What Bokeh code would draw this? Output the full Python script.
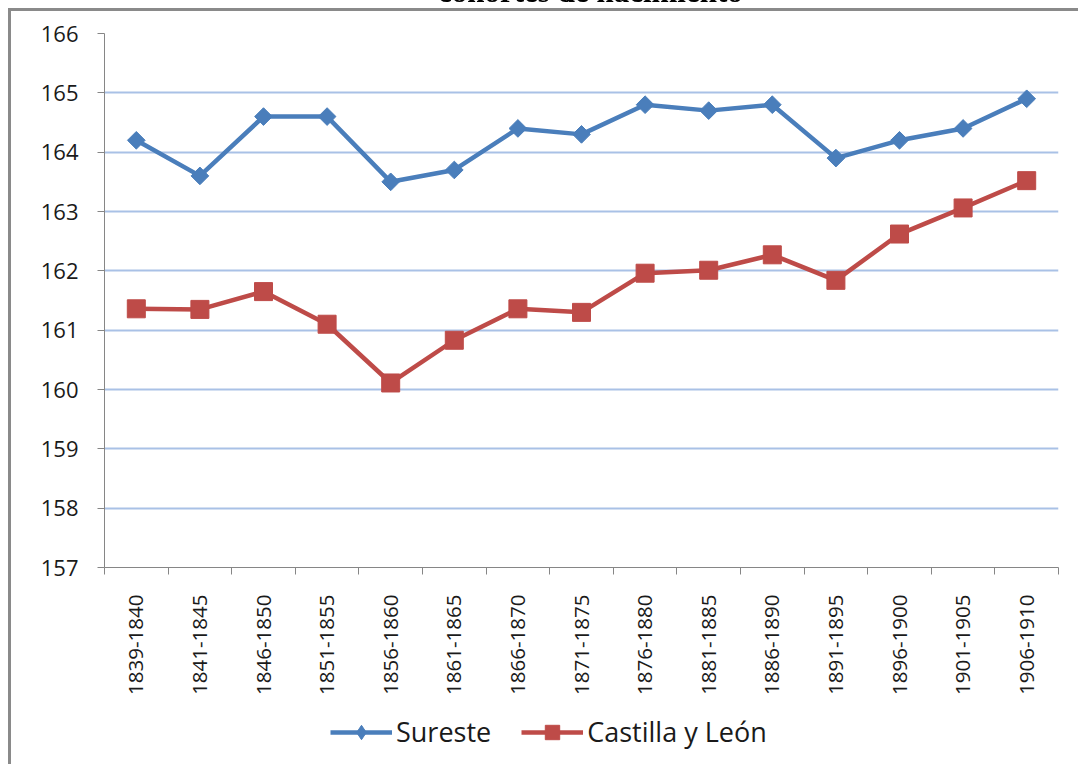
import numpy as np
from bokeh.plotting import figure
from bokeh.layouts import column
from bokeh.models import Range1d, FixedTicker, Legend, LegendItem, Div
from bokeh.embed import file_html
from bokeh.resources import INLINE

title_text = "cohortes de nacimiento"
periods = ["1839-1840", "1841-1845", "1846-1850", "1851-1855", "1856-1860",
           "1861-1865", "1866-1870", "1871-1875", "1876-1880", "1881-1885",
           "1886-1890", "1891-1895", "1896-1900", "1901-1905", "1906-1910"]
sureste = [164.2, 163.6, 164.6, 164.6, 163.5, 163.7, 164.4, 164.3, 164.8,
           164.7, 164.8, 163.9, 164.2, 164.4, 164.9]
castilla = [161.36, 161.35, 161.65, 161.1, 160.11, 160.83, 161.36, 161.3,
            161.96, 162.01, 162.27, 161.84, 162.62, 163.06, 163.52]
y_ticks = [157, 158, 159, 160, 161, 162, 163, 164, 165, 166]
series_names = ["Sureste", "Castilla y León"]

FONT = "Open Sans"
BLUE = "#4a7ebb"
RED = "#be4b48"
GRID = "#a9c1e6"
AXIS = "#868686"
TEXT = "#1a1a1a"

n = len(periods)
xc = np.arange(n) + 0.5


def draw_series(fig, blue_marker, blue_angle):
    l1 = fig.line(xc, sureste, line_color=BLUE, line_width=4.5)
    m1 = fig.scatter(xc, sureste, marker=blue_marker, size=12.5, angle=blue_angle,
                     fill_color=BLUE, line_color=BLUE)
    l2 = fig.line(xc, castilla, line_color=RED, line_width=4.5)
    m2 = fig.scatter(xc, castilla, marker="square", size=18,
                     fill_color=RED, line_color=RED)
    return (l1, m1), (l2, m2)


# main chart
p = figure(width=1067, height=689, output_backend="svg", toolbar_location=None,
           x_range=Range1d(0, n), y_range=Range1d(y_ticks[0], y_ticks[-1]),
           min_border_left=93, min_border_right=20, min_border_top=22,
           min_border_bottom=133)
p.outline_line_color = None
p.background_fill_color = "white"
p.border_fill_color = "white"

xa = p.xaxis[0]
xa.ticker = FixedTicker(ticks=list(xc), minor_ticks=list(np.arange(n + 1)))
xa.major_label_overrides = {float(x): lab for x, lab in zip(xc, periods)}
xa.major_tick_out = 0
xa.major_tick_in = 0
xa.minor_tick_out = 7
xa.minor_tick_in = 0
xa.minor_tick_line_color = AXIS
xa.axis_line_color = AXIS
xa.major_label_orientation = np.pi / 2
xa.major_label_standoff = 20
xa.major_label_text_font = FONT
xa.major_label_text_font_size = "20.5px"
xa.major_label_text_color = TEXT

ya = p.yaxis[0]
ya.ticker = FixedTicker(ticks=y_ticks)
ya.major_tick_out = 7
ya.major_tick_in = 0
ya.minor_tick_line_color = None
ya.major_tick_line_color = AXIS
ya.axis_line_color = AXIS
ya.major_label_standoff = 19
ya.major_label_text_font = FONT
ya.major_label_text_font_size = "22px"
ya.major_label_text_color = TEXT

p.xgrid.grid_line_color = None
p.ygrid.grid_line_color = GRID
p.ygrid.grid_line_width = 2

draw_series(p, "square", np.pi / 4)

# legend strip (same series, drawn outside its view; only the legend shows)
lg = figure(width=1067, height=64, output_backend="svg", toolbar_location=None,
            x_range=Range1d(-100, -99), y_range=Range1d(0, 1),
            x_axis_type=None, y_axis_type=None,
            min_border_left=0, min_border_right=0, min_border_top=0,
            min_border_bottom=0)
lg.outline_line_color = None
lg.background_fill_color = "white"
lg.border_fill_color = "white"
lg.xgrid.grid_line_color = None
lg.ygrid.grid_line_color = None
r_s, r_c = draw_series(lg, "diamond", 0)

legend = Legend(items=[LegendItem(label=series_names[0], renderers=list(r_s)),
                       LegendItem(label=series_names[1], renderers=list(r_c))],
                orientation="horizontal", location=(226, 14),
                border_line_color=None, background_fill_alpha=0,
                label_text_font=FONT, label_text_font_size="27px",
                label_text_color=TEXT, glyph_width=62, glyph_height=36,
                spacing=30, label_standoff=4, padding=0, margin=0)
lg.add_layout(legend, "center")

page = column(p, lg, spacing=0)
page.margin = (8, 0, 0, 8)
page.styles = {"border-left": "3px solid #8a8a8a", "border-top": "3px solid #8a8a8a"}

# chart title, mostly above the visible window (as in the cropped original)
title = Div(text=('<span style="font: bold 31px \'Liberation Serif\'; '
                  'line-height: 31px; white-space: nowrap; color: #000;">'
                  + title_text + '</span>'),
            width=420, height=31,
            styles={"position": "fixed", "top": "-29px", "left": "433px"})

open("out.html", "w").write(file_html([page, title], INLINE))
